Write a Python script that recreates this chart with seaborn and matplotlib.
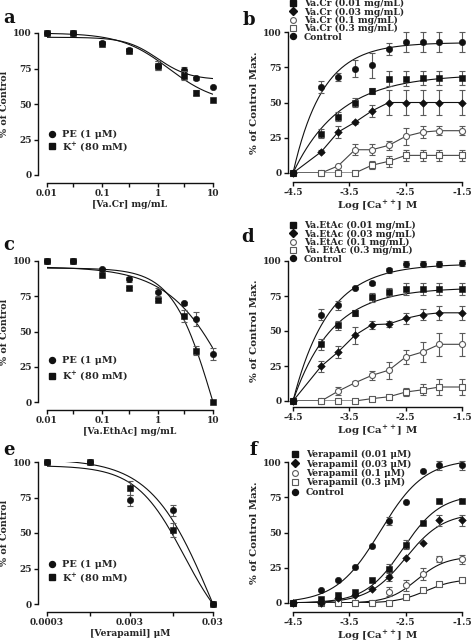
import numpy as np
import pandas as pd
import matplotlib
matplotlib.use("Agg")
import matplotlib.pyplot as plt
from matplotlib.lines import Line2D
import seaborn as sns

# ---------------- data ----------------
# Panel a: [Va.Cr] mg/mL
conc_a = [0.01, 0.03, 0.1, 0.3, 1, 3, 5, 10]
pe_a = [100, 100, 93, 88, 77, 74, 68, 62]
pe_a_err = [0, 0, 0, 1, 3, 2, 1, 0]
k_a = [100, 100, 92, 87, 77, 70, 58, 53]
k_a_err = [0, 0, 0, 1, 3, 3, 2, 0]
# fitted curve parameters (top, bottom, logIC50, hill)
pe_a_fit = [97, 67, 0.0, 1.5]
k_a_fit = [100, 50, 0.2, 1.0]

# Panel c: [Va.EthAc] mg/mL
conc_c = [0.01, 0.03, 0.1, 0.3, 1, 3, 5, 10]
pe_c = [100, 100, 94, 87, 78, 70, 59, 34]
pe_c_err = [0, 0, 1, 2, 3, 1, 5, 4]
k_c = [100, 100, 90, 80.5, 72.5, 61, 36.5, 0]
k_c_err = [0, 0, 0, 1, 1, 4, 3, 0]
pe_c_fit = [96, -100, 1.522, 0.72]
k_c_fit = [95, -100, 1.019, 1.17]

# Panel e: [Verapamil] uM
conc_e = [0.0003, 0.001, 0.003, 0.01, 0.03]
pe_e = [100, 100, 73, 66, 0]
pe_e_err = [0, 0, 4, 4, 0]
k_e = [100, 100, 81.5, 52, 0]
k_e_err = [0, 0, 5, 5, 0]
pe_e_fit = [102, -100, -1.530, 1.184]
k_e_fit = [97.5, -30, -1.868, 1.486]

# Log [Ca++] M
log_ca = [-4.5, -4.0, -3.7, -3.4, -3.1, -2.8, -2.5, -2.2, -1.9, -1.5]

# Panel b: Va.Cr
b_ctrl = [0, 61, 68, 74, 76.4, 88, 93, 93, 93, 93]
b_ctrl_err = [0, 4, 3, 6, 9, 4, 7, 7, 7, 7]
b_001 = [0, 28, 40, 50, 58, 67, 67, 67.5, 67.5, 67.5]
b_001_err = [0, 3, 3, 3, 2, 5, 5, 5, 5, 5]
b_003 = [0, 15, 29, 36, 44, 50, 50, 50, 50, 50]
b_003_err = [0, 1, 4, 1, 4, 9, 9, 9, 9, 9]
b_01 = [0, 0, 5, 16.5, 16.5, 19.6, 26, 29, 30, 30]
b_01_err = [0, 0, 0, 4, 4, 3, 6, 4, 3, 3]
b_03 = [0, 0, 0, 0, 5.5, 8.3, 12.5, 12.5, 12.5, 12.5]
b_03_err = [0, 0, 0, 0, 3, 4, 4, 4, 4, 4]
# exponential association fits (top, rate)
b_ctrl_fit = [92.5, 1.9]
b_001_fit = [70, 1.2]

# Panel d: Va.EtAc
d_ctrl = [0, 61.7, 68.3, 80.7, 84, 93.3, 98, 98, 98, 98.5]
d_ctrl_err = [0, 4, 3, 1, 1, 2, 2, 2, 2, 2]
d_001 = [0, 40.5, 54, 63, 74, 78, 80, 80, 80, 80]
d_001_err = [0, 4, 3, 2, 3, 3, 4, 4, 4, 4]
d_003 = [0, 24.8, 35, 47, 54.5, 55, 59, 61.7, 63, 63]
d_003_err = [0, 4, 4, 6, 3, 2, 4, 4, 5, 5]
d_01 = [0, 0, 7, 13, 18.3, 22, 31.4, 35, 40.5, 40.5]
d_01_err = [0, 0, 3, 1, 3, 6, 5, 7, 8, 8]
d_03 = [0, 0, 0, 0, 1.7, 3, 6.4, 8, 10, 10]
d_03_err = [0, 0, 0, 0, 1, 1, 3, 4, 6, 6]
d_ctrl_fit = [98, 1.6]
d_001_fit = [81, 1.45]

# Panel f: Verapamil
f_ctrl = [0, 9.5, 16.5, 25.3, 40.7, 58, 71.6, 93.4, 97.6, 97.6]
f_ctrl_err = [0, 0, 0, 0, 0, 3, 0, 0, 3, 3]
f_001 = [0, 3, 5.4, 7.6, 16, 24, 41.4, 57, 72.6, 72.6]
f_001_err = [0, 0, 0, 0, 0, 4, 3, 0, 0, 0]
f_003 = [0, 0, 3.5, 6, 10, 18.4, 32, 42.5, 58.6, 58.6]
f_003_err = [0, 0, 0, 0, 0, 3, 0, 0, 4, 4]
f_01 = [0, 0, 0, 0, 0, 8, 12.5, 20.6, 31, 31]
f_01_err = [0, 0, 0, 0, 0, 3, 4, 4, 2, 3]
f_03 = [0, 0, 0, 0, 0, 0, 4.3, 9, 13.5, 16]
f_03_err = [0, 0, 0, 0, 0, 0, 1, 1, 1, 2]
# sigmoid fits (top, logEC50, hill)
f_ctrl_fit = [102, -2.95, 1.1]
f_001_fit = [77, -2.55, 1.3]
f_003_fit = [64, -2.5, 1.3]
f_01_fit = [33, -2.3, 1.7]
f_03_fit = [17, -2.15, 1.7]

legend_b = ["Va.Cr (0.01 mg/mL)", "Va.Cr (0.03 mg/mL)", "Va.Cr (0.1 mg/mL)",
            "Va.Cr (0.3 mg/mL)", "Control"]
legend_d = ["Va.EtAc (0.01 mg/mL)", "Va.EtAc (0.03 mg/mL)", "Va.EtAc (0.1 mg/mL)",
            "Va. EtAc (0.3 mg/mL)", "Control"]
legend_f = ["Verapamil (0.01 \u03bcM)", "Verapamil (0.03 \u03bcM)", "Verapamil (0.1 \u03bcM)",
            "Verapamil (0.3 \u03bcM)", "Control"]
legend_ace = ["PE (1 \u03bcM)", r"K$^{\mathbf{+}}$ (80 mM)"]
yticks = [0, 25, 50, 75, 100]

# ---------------- style ----------------
sns.set_style("ticks")
plt.rcParams["font.family"] = ["DejaVu Serif"]
plt.rcParams["font.weight"] = "bold"
plt.rcParams["axes.labelweight"] = "bold"
plt.rcParams["mathtext.fontset"] = "dejavuserif"
plt.rcParams["axes.unicode_minus"] = False

W, H = 472, 642
fig = plt.figure(figsize=(W / 100, H / 100), dpi=100)

BLK = "#111111"
ERR = "#5a5a5a"
OPEN = "#5a5a5a"

STY = {
    "fc": dict(marker="o", filled=True, s=21),
    "fs": dict(marker="s", filled=True, s=21),
    "fd": dict(marker="D", filled=True, s=15),
    "oc": dict(marker="o", filled=False, s=19),
    "os": dict(marker="s", filled=False, s=19),
}


def axes_px(l, t, r, b):
    return fig.add_axes([l / W, 1 - b / H, (r - l) / W, (b - t) / H])


def points(ax, x, y, err, key, z):
    st = STY[key]
    x = np.asarray(x, float); y = np.asarray(y, float); e = np.asarray(err, float)
    m = e > 0
    if m.any():
        ax.errorbar(x[m], y[m], yerr=e[m], fmt="none", ecolor=ERR, elinewidth=0.8,
                    capsize=2.4, capthick=0.8, clip_on=False, zorder=z - 0.5)
    df = pd.DataFrame({"x": x, "y": y})
    if st["filled"]:
        sns.scatterplot(data=df, x="x", y="y", ax=ax, marker=st["marker"], s=st["s"],
                        color=BLK, edgecolor=BLK, linewidth=0.4, clip_on=False,
                        zorder=z, legend=False)
    else:
        sns.scatterplot(data=df, x="x", y="y", ax=ax, marker=st["marker"], s=st["s"],
                        facecolor="white", edgecolor=OPEN, linewidth=0.8, clip_on=False,
                        zorder=z, legend=False)


def line(ax, x, y, color=BLK, lw=0.8, z=2):
    df = pd.DataFrame({"x": np.asarray(x, float), "y": np.asarray(y, float)})
    sns.lineplot(data=df, x="x", y="y", ax=ax, color=color, linewidth=lw, sort=False,
                 estimator=None, errorbar=None, zorder=z, legend=False)


def hill_down(xc, p):
    top, bot, lic, h = p
    return bot + (top - bot) / (1 + 10 ** ((np.log10(xc) - lic) * h))


def hill_up(xc, p):
    top, lec, h = p
    return top / (1 + 10 ** ((lec - xc) * h))


def expo(xc, p):
    top, k = p
    return top * (1 - np.exp(-k * (xc + 4.5)))


def handle(key):
    st = STY[key]
    if st["filled"]:
        return Line2D([], [], ls="none", marker=st["marker"], ms=4.3 if key != "fd" else 3.6,
                      mfc=BLK, mec=BLK)
    return Line2D([], [], ls="none", marker=st["marker"], ms=4.2, mfc="white", mec=OPEN, mew=0.8)


def style(ax, loff, boff):
    sns.despine(ax=ax, offset={"left": loff, "bottom": boff})
    ax.set_ylim(0, 100)
    ax.set_yticks(yticks)
    ax.set_yticklabels([str(v) for v in yticks])
    ax.tick_params(axis="both", direction="out", length=3, width=1, labelsize=6.5,
                   pad=1.5, color=BLK)
    for sp in ("left", "bottom"):
        ax.spines[sp].set_linewidth(1.0)
        ax.spines[sp].set_color(BLK)
    ax.set_facecolor("none")


def legend(ax, keys, labels, x, ytop, fs, ls, tp):
    ax.legend([handle(k) for k in keys], labels, loc="upper left",
              bbox_to_anchor=(x / W, 1 - ytop / H), bbox_transform=fig.transFigure,
              frameon=False, fontsize=fs, borderpad=0, borderaxespad=0,
              handlelength=1.0, handletextpad=tp, labelspacing=ls, handleheight=0.6)


def dose_panel(ax, conc, pe, pe_err, k, k_err, pe_fit, k_fit, xticks, xlabels, xlabel, lx, ly, ls):
    ax.set_xscale("log")
    xc = np.logspace(np.log10(conc[0]), np.log10(conc[-1]), 300)
    line(ax, xc, hill_down(xc, pe_fit))
    line(ax, xc, hill_down(xc, k_fit))
    points(ax, conc, pe, pe_err, "fc", 4)
    points(ax, conc, k, k_err, "fs", 5)
    ax.set_xlim(conc[0], conc[-1])
    style(ax, 6.5, 5.8)
    ax.minorticks_off()
    ax.set_xticks(xticks)
    ax.set_xticklabels(xlabels)
    ax.minorticks_off()
    ax.set_xlabel(xlabel, fontsize=6.6, labelpad=1.0)
    ax.set_ylabel("% of Control", fontsize=6.8, labelpad=3)
    legend(ax, ["fc", "fs"], legend_ace, lx, ly, 7, ls, 0.55)


def ca_panel(ax, series, boff, labels, lx, ly, ls):
    xc = np.linspace(-4.5, -1.5, 300)
    for y, err, key, kind, p, z in series:
        if kind == "expo":
            line(ax, xc, expo(xc, p))
        elif kind == "hill":
            line(ax, xc, hill_up(xc, p))
        else:
            line(ax, log_ca, y, color=BLK if key.startswith("f") else "#444444")
        points(ax, log_ca, y, err, key, z)
    ax.set_xlim(-4.5, -1.5)
    style(ax, 3.8, boff)
    ax.set_xticks([-4.5, -3.5, -2.5, -1.5])
    ax.set_xticklabels(["-4.5", "-3.5", "-2.5", "-1.5"])
    ax.set_xlabel(r"Log [Ca$^{\mathbf{++}}$] M", fontsize=7.4, labelpad=1.0)
    ax.set_ylabel("% of Control Max.", fontsize=7.4, labelpad=3)
    legend(ax, ["fs", "fd", "oc", "os", "fc"], labels, lx, ly, 6.6, ls, 0.65)


# ---- panel a ----
ax_a = axes_px(47, 33, 213, 175)
dose_panel(ax_a, conc_a, pe_a, pe_a_err, k_a, k_a_err, pe_a_fit, k_a_fit,
           [0.01, 0.03, 0.1, 0.3, 1, 3, 10], ["0.01", "", "0.1", "", "1", "", "10"],
           "[Va.Cr] mg/mL", 47, 130, 0.08)

# ---- panel c ----
ax_c = axes_px(47, 261, 213, 402)
dose_panel(ax_c, conc_c, pe_c, pe_c_err, k_c, k_c_err, pe_c_fit, k_c_fit,
           [0.01, 0.03, 0.1, 0.3, 1, 3, 10], ["0.01", "", "0.1", "", "1", "", "10"],
           "[Va.EthAc] mg/mL", 47, 356, 0.45)

# ---- panel e ----
ax_e = axes_px(47, 462, 213, 604)
dose_panel(ax_e, conc_e, pe_e, pe_e_err, k_e, k_e_err, pe_e_fit, k_e_fit,
           [0.0003, 0.001, 0.003, 0.01, 0.03], ["0.0003", "", "0.003", "", "0.03"],
           "[Verapamil] \u03bcM", 47, 560, 0.2)

# ---- panel b ----
ax_b = axes_px(293, 32, 462, 173)
ca_panel(ax_b, [
    (b_ctrl, b_ctrl_err, "fc", "expo", b_ctrl_fit, 6),
    (b_001, b_001_err, "fs", "expo", b_001_fit, 5),
    (b_003, b_003_err, "fd", "seg", None, 5),
    (b_01, b_01_err, "oc", "seg", None, 4),
    (b_03, b_03_err, "os", "seg", None, 4),
], 6.5, legend_b, 288.5, -1.0, -0.08)

# ---- panel d ----
ax_d = axes_px(293, 261, 462, 401)
ca_panel(ax_d, [
    (d_ctrl, d_ctrl_err, "fc", "expo", d_ctrl_fit, 6),
    (d_001, d_001_err, "fs", "expo", d_001_fit, 5),
    (d_003, d_003_err, "fd", "seg", None, 5),
    (d_01, d_01_err, "oc", "seg", None, 4),
    (d_03, d_03_err, "os", "seg", None, 4),
], 4.3, legend_d, 288.5, 221, -0.08)

# ---- panel f ----
ax_f = axes_px(293, 462, 462, 603)
ca_panel(ax_f, [
    (f_ctrl, f_ctrl_err, "fc", "hill", f_ctrl_fit, 6),
    (f_001, f_001_err, "fs", "hill", f_001_fit, 5),
    (f_003, f_003_err, "fd", "hill", f_003_fit, 5),
    (f_01, f_01_err, "oc", "hill", f_01_fit, 4),
    (f_03, f_03_err, "os", "hill", f_03_fit, 4),
], 6.5, legend_f, 290.5, 450, 0.03)

# ---- panel letters ----
for letter, (px, py) in {"a": (3, 23), "b": (243, 25), "c": (3, 250),
                         "d": (241, 242), "e": (3, 455), "f": (249, 455)}.items():
    fig.text(px / W, 1 - py / H, letter, fontsize=13, fontweight="bold",
             ha="left", va="baseline", color=BLK)

fig.savefig("out.png", dpi=100)
